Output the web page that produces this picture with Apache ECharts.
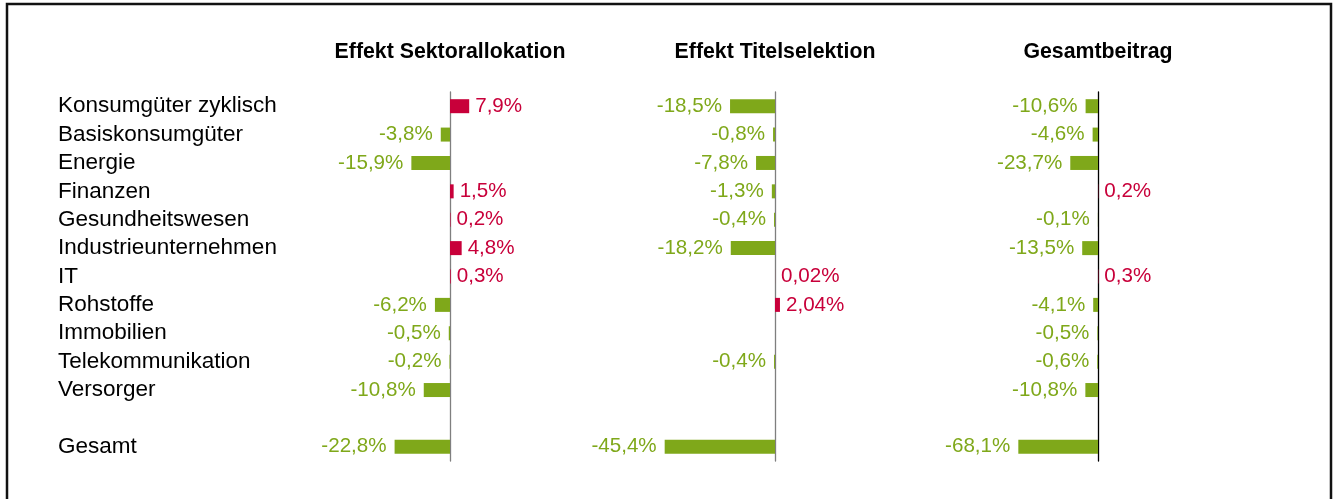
<!DOCTYPE html>
<html><head><meta charset="utf-8">
<script src="https://cdn.jsdelivr.net/npm/echarts@6/dist/echarts.min.js"></script>
<style>html,body{margin:0;padding:0;background:#fff;overflow:hidden;} #c{width:1336px;height:499px;}</style>
</head><body><div id="c"></div>
<script>
const categories = ['Konsumgüter zyklisch','Basiskonsumgüter','Energie','Finanzen','Gesundheitswesen','Industrieunternehmen','IT','Rohstoffe','Immobilien','Telekommunikation','Versorger','','Gesamt'];
const panelTitles = ['Effekt Sektorallokation','Effekt Titelselektion','Gesamtbeitrag'];
const sektorallokation = [7.9,-3.8,-15.9,1.5,0.2,4.8,0.3,-6.2,-0.5,-0.2,-10.8,null,-22.8];
const titelselektion = [-18.5,-0.8,-7.8,-1.3,-0.4,-18.2,0.02,2.04,null,-0.4,null,null,-45.4];
const gesamtbeitrag = [-10.6,-4.6,-23.7,0.2,-0.1,-13.5,0.3,-4.1,-0.5,-0.6,-10.8,null,-68.1];

const GREEN = '#7FA81A', RED = '#C8003A';
const FONT = "'Liberation Sans', Arial, sans-serif";
const panels = [
  {data: sektorallokation, min: -50, max: 30, zero: 450, scale: 2.43, axisColor: '#7f7f7f'},
  {data: titelselektion, min: -50, max: 30, zero: 775, scale: 2.43, axisColor: '#7f7f7f'},
  {data: gesamtbeitrag, min: -100, max: 60, zero: 1098, scale: 1.17, axisColor: '#000'}
];
const TOP = 92, HEIGHT = 369;
const fmt = v => String(v).replace('.', ',') + '%';

const grid = [{left: 58, top: TOP, height: HEIGHT, width: 10}];
const xAxis = [{gridIndex: 0, type: 'value', show: false, min: 0, max: 1}];
const yAxis = [{gridIndex: 0, type: 'category', data: categories, inverse: true,
  axisLine: {show: false}, axisTick: {show: false}, splitLine: {show: false},
  axisLabel: {inside: true, margin: 0, interval: 0, hideOverlap: false, color: '#000', fontSize: 22.5, fontFamily: FONT}}];
const series = [];
const title = [];
panels.forEach((p, i) => {
  const gi = i + 1;
  grid.push({left: p.zero + p.min * p.scale, top: TOP, height: HEIGHT, width: (p.max - p.min) * p.scale});
  xAxis.push({gridIndex: gi, type: 'value', min: p.min, max: p.max, show: false});
  yAxis.push({gridIndex: gi, type: 'category', data: categories, inverse: true,
    axisLine: {show: true, onZero: true, lineStyle: {color: p.axisColor, width: 1.3}},
    axisTick: {show: false}, axisLabel: {show: false}, splitLine: {show: false}});
  title.push({text: panelTitles[i], left: p.zero, top: 42, textAlign: 'center', padding: 0,
    textStyle: {fontSize: 21.3, fontWeight: 'bold', color: '#000', fontFamily: FONT}});
  series.push({
    type: 'bar', xAxisIndex: gi, yAxisIndex: gi, barWidth: 14, silent: true, animation: false,
    data: p.data.map(v => v === null ? {value: null} : {
      value: v,
      itemStyle: {color: v < 0 ? GREEN : RED},
      label: {show: true, position: v < 0 ? 'left' : 'right', distance: v < 0 ? 8 : 6,
        color: v < 0 ? GREEN : RED, fontSize: 20.6, fontFamily: FONT, formatter: () => fmt(v)}
    })
  });
});

const chart = echarts.init(document.getElementById('c'), null, {renderer: 'canvas'});
chart.setOption({
  animation: false,
  backgroundColor: '#fff',
  title, grid, xAxis, yAxis, series,
  graphic: [{type: 'polyline', shape: {points: [[7, 510], [7, 4], [1331, 4], [1331, 510]]},
    style: {stroke: '#111', lineWidth: 2.5, fill: null}, silent: true}]
});
</script></body></html>
